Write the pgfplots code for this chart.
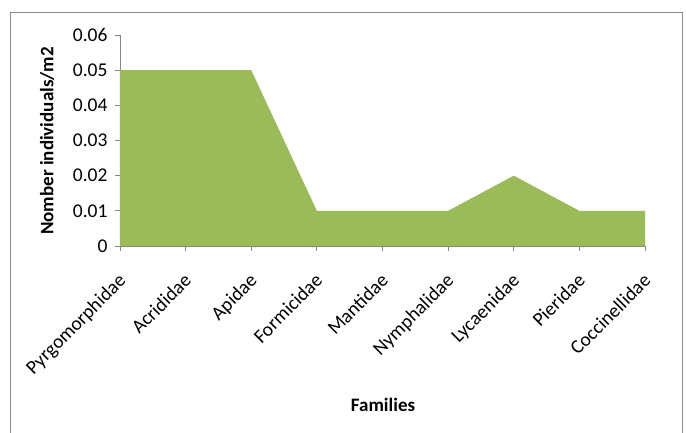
\documentclass[border=0pt]{standalone}
\usepackage{pgfplots}
\pgfplotsset{compat=1.18}
\usepackage{fontspec}
\setmainfont{Carlito}
\definecolor{areagreen}{HTML}{9BBB59}
\definecolor{axgray}{HTML}{868686}
\definecolor{framegray}{HTML}{8C8C8C}
\begin{document}
\begin{tikzpicture}[x=1pt,y=1pt]
\path[use as bounding box] (-120,-187) rectangle (566,246);
\draw[framegray, line width=1pt] (-109,-200) -- (-109,233) -- (562,233) -- (562,-200);
\begin{axis}[
  at={(0,0)}, anchor=south west,
  scale only axis, width=525pt, height=211pt,
  xmin=0, xmax=8, ymin=0, ymax=0.06,
  axis lines*=left,
  axis line style={axgray, line width=0.8pt},
  tick style={axgray, line width=0.8pt},
  tick align=outside,
  major tick length=5pt,
  xtick={0,1,...,8},
  xticklabels={Pyrgomorphidae,Acrididae,Apidae,Formicidae,Mantidae,Nymphalidae,Lycaenidae,Pieridae,Coccinellidae},
  ytick={0,0.01,0.02,0.03,0.04,0.05,0.06},
  yticklabels={0,0.01,0.02,0.03,0.04,0.05,0.06},
  scaled y ticks=false,
  /pgf/number format/assume math mode=true,
  ticklabel style={font=\fontsize{19.5}{23}\selectfont, text=black},
  xticklabel style={rotate=45, anchor=north east, inner sep=1pt, xshift=-16pt, yshift=-12pt},
  yticklabel style={xshift=-4pt},
  xlabel={Families},
  ylabel={Nomber individuals/m2},
  xlabel style={font=\fontsize{19}{23}\selectfont\bfseries, at={(axis description cs:0.501,-0.754)}, anchor=center},
  ylabel style={font=\fontsize{19}{23}\selectfont\bfseries, at={(axis description cs:-0.139,0.498)}, anchor=center, rotate=0},
  clip=false,
]
\addplot[fill=areagreen, draw=none] coordinates {
(0,0.05) (1,0.05) (2,0.05) (3,0.01) (4,0.01) (5,0.01) (6,0.02) (7,0.01) (8,0.01)
} \closedcycle;
\end{axis}
\end{tikzpicture}
\end{document}
